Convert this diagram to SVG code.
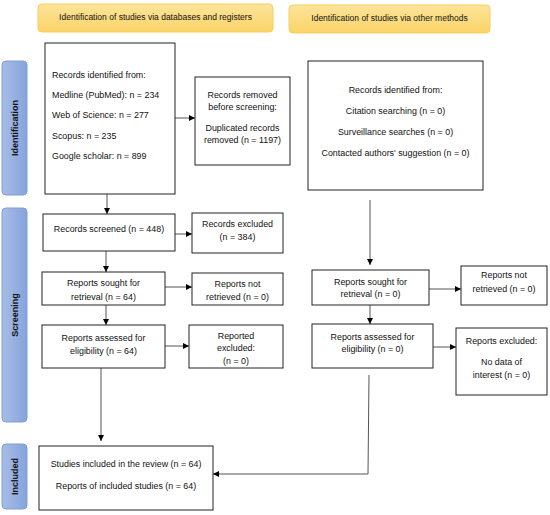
<svg xmlns="http://www.w3.org/2000/svg" width="550" height="515" viewBox="0 0 550 515">
<defs>
<linearGradient id="yel" x1="0" y1="0" x2="0" y2="1">
<stop offset="0" stop-color="#fde49a"/>
<stop offset="1" stop-color="#fbd468"/>
</linearGradient>
<linearGradient id="blu" x1="0" y1="0" x2="1" y2="0">
<stop offset="0" stop-color="#a7bde6"/>
<stop offset="1" stop-color="#86a3dc"/>
</linearGradient>
<marker id="ah" viewBox="0 0 10 10" refX="10" refY="5" markerWidth="6" markerHeight="6" orient="auto" markerUnits="userSpaceOnUse">
<path d="M0,0 L10,5 L0,10 z" fill="#000"/>
</marker>
<style>
.hdr{fill:url(#yel);stroke:#f6cf5c;stroke-width:1}
.side{fill:url(#blu);stroke:#7f9fd8;stroke-width:1}
.box{fill:#fff;stroke:#222;stroke-width:1}
text{font-family:"Liberation Sans",Arial,sans-serif;font-size:8.9px;fill:#111}
.h{font-size:8.5px}
.c{text-anchor:middle}
.sl{font-weight:bold;font-size:9px;text-anchor:middle}
.con{fill:none;stroke:#555;stroke-width:1}
</style>
</defs>

<g id="hdr-left"><rect class="hdr" x="38" y="4" width="235" height="28" rx="4"/><text class="c h" x="155.5" y="20">Identification of studies via databases and registers</text></g>
<g id="hdr-right"><rect class="hdr" x="289" y="5" width="201" height="28" rx="4"/><text class="c h" x="389.5" y="21">Identification of studies via other methods</text></g>

<g id="side-identification"><rect class="side" x="2" y="61" width="25" height="134" rx="4"/><text class="sl" transform="translate(17.5,128) rotate(-90)">Identification</text></g>
<g id="side-screening"><rect class="side" x="2" y="208" width="25" height="214" rx="4"/><text class="sl" transform="translate(17.5,315) rotate(-90)">Screening</text></g>
<g id="side-included"><rect class="side" x="2" y="444" width="25" height="65" rx="4"/><text class="sl" transform="translate(17.5,476.5) rotate(-90)">Included</text></g>

<g id="connectors">
<line class="con" x1="175" y1="118" x2="195" y2="118" marker-end="url(#ah)"/>
<line class="con" x1="107" y1="194" x2="107" y2="214" marker-end="url(#ah)"/>
<line class="con" x1="175" y1="234" x2="192" y2="234" marker-end="url(#ah)"/>
<line class="con" x1="106" y1="251" x2="106" y2="272" marker-end="url(#ah)"/>
<line class="con" x1="165" y1="287" x2="192" y2="287" marker-end="url(#ah)"/>
<line class="con" x1="106" y1="305" x2="106" y2="325" marker-end="url(#ah)"/>
<line class="con" x1="165" y1="346" x2="189" y2="346" marker-end="url(#ah)"/>
<line class="con" x1="101" y1="368" x2="101" y2="441" marker-end="url(#ah)"/>
<line class="con" x1="370" y1="200" x2="370" y2="265" marker-end="url(#ah)"/>
<line class="con" x1="429" y1="289" x2="461" y2="289" marker-end="url(#ah)"/>
<line class="con" x1="370" y1="305" x2="370" y2="324" marker-end="url(#ah)"/>
<line class="con" x1="433" y1="347" x2="456" y2="347" marker-end="url(#ah)"/>
<polyline class="con" points="369,375 368,474 213,474" marker-end="url(#ah)"/>
</g>

<g id="records-identified"><rect class="box" x="45" y="43" width="130" height="151"/>
<text x="52" y="78">Records identified from:</text>
<text x="52" y="98">Medline (PubMed): n = 234</text>
<text x="52" y="118">Web of Science: n = 277</text>
<text x="52" y="139">Scopus: n = 235</text>
<text x="52" y="159">Google scholar: n = 899</text></g>

<g id="records-removed"><rect class="box" x="195" y="77" width="95" height="88"/>
<text class="c" x="242.5" y="98">Records removed</text>
<text class="c" x="242.5" y="110">before screening:</text>
<text class="c" x="242.5" y="131">Duplicated records</text>
<text class="c" x="242.5" y="143">removed (n = 1197)</text></g>

<g id="other-identified"><rect class="box" x="308" y="61" width="175" height="129"/>
<text class="c" x="395.5" y="93">Records identified from:</text>
<text class="c" x="395.5" y="114">Citation searching (n = 0)</text>
<text class="c" x="395.5" y="135">Surveillance searches (n = 0)</text>
<text class="c" x="395.5" y="156">Contacted authors' suggestion (n = 0)</text></g>

<g id="records-screened"><rect class="box" x="43" y="214" width="132" height="37"/>
<text class="c" x="109" y="232">Records screened (n = 448)</text></g>

<g id="records-excluded"><rect class="box" x="192" y="213" width="91" height="40"/>
<text class="c" x="237.5" y="227">Records excluded</text>
<text class="c" x="237.5" y="240">(n = 384)</text></g>

<g id="reports-sought"><rect class="box" x="42" y="272" width="123" height="33"/>
<text class="c" x="103.5" y="286">Reports sought for</text>
<text class="c" x="103.5" y="300">retrieval (n = 64)</text></g>

<g id="reports-not-retrieved"><rect class="box" x="192" y="273" width="91" height="32"/>
<text class="c" x="237.5" y="287">Reports not</text>
<text class="c" x="237.5" y="300">retrieved (n = 0)</text></g>

<g id="reports-assessed"><rect class="box" x="42" y="325" width="123" height="43"/>
<text class="c" x="103.5" y="341">Reports assessed for</text>
<text class="c" x="103.5" y="354">eligibility (n = 64)</text></g>

<g id="reported-excluded"><rect class="box" x="189" y="325" width="94" height="43"/>
<text class="c" x="236" y="339">Reported</text>
<text class="c" x="236" y="351">excluded:</text>
<text class="c" x="236" y="364">(n = 0)</text></g>

<g id="other-reports-sought"><rect class="box" x="312" y="270" width="117" height="35"/>
<text class="c" x="370.5" y="285">Reports sought for</text>
<text class="c" x="370.5" y="297">retrieval (n = 0)</text></g>

<g id="other-not-retrieved"><rect class="box" x="461" y="266" width="86" height="39"/>
<text class="c" x="504" y="278">Reports not</text>
<text class="c" x="504" y="292">retrieved (n = 0)</text></g>

<g id="other-reports-assessed"><rect class="box" x="312" y="324" width="121" height="44"/>
<text class="c" x="372.5" y="340">Reports assessed for</text>
<text class="c" x="372.5" y="352">eligibility (n = 0)</text></g>

<g id="other-reports-excluded"><rect class="box" x="456" y="328" width="91" height="67"/>
<text class="c" x="501.5" y="344">Reports excluded:</text>
<text class="c" x="501.5" y="365">No data of</text>
<text class="c" x="501.5" y="378">interest (n = 0)</text></g>

<g id="included"><rect class="box" x="39" y="446" width="174" height="64"/>
<text class="c" x="126" y="467">Studies included in the review (n = 64)</text>
<text class="c" x="126" y="489">Reports of included studies (n = 64)</text></g>
</svg>
